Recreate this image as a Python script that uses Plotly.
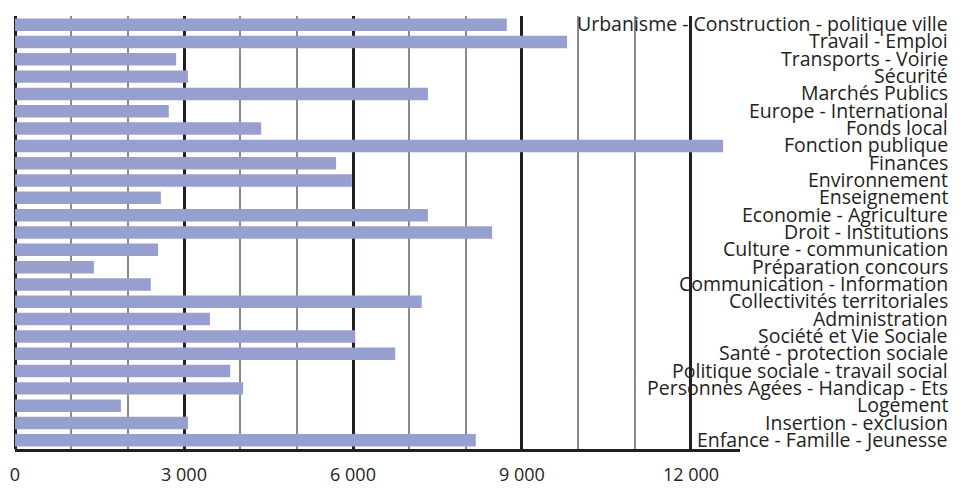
import plotly.graph_objects as go

categories = [
    "Urbanisme - Construction - politique ville",
    "Travail - Emploi",
    "Transports - Voirie",
    "Sécurité",
    "Marchés Publics",
    "Europe - International",
    "Fonds local",
    "Fonction publique",
    "Finances",
    "Environnement",
    "Enseignement",
    "Economie - Agriculture",
    "Droit - Institutions",
    "Culture - communication",
    "Préparation concours",
    "Communication - Information",
    "Collectivités territoriales",
    "Administration",
    "Société et Vie Sociale",
    "Santé - protection sociale",
    "Politique sociale - travail social",
    "Personnes Agées - Handicap - Ets",
    "Logement",
    "Insertion - exclusion",
    "Enfance - Famille - Jeunesse",
]
values = [8730, 9800, 2860, 3070, 7330, 2730, 4370, 12570, 5700, 5980, 2590,
          7330, 8470, 2540, 1400, 2410, 7220, 3460, 6040, 6750, 3820, 4050,
          1880, 3070, 8180]
tick_vals = [0, 3000, 6000, 9000, 12000]
tick_text = ["0", "3 000", "6 000", "9 000", "12 000"]

DARK = "#231f20"
fig = go.Figure(go.Bar(
    x=values, y=categories, orientation="h",
    marker=dict(color="#979fcf", line=dict(width=0)),
    hoverinfo="x+y",
))

annotations = []
for c in categories:
    annotations.append(dict(
        x=1.2897, xref="paper", y=c, yref="y", text=c, showarrow=False,
        xanchor="right", yanchor="middle", yshift=1,
        font=dict(family="Open Sans", size=19.5, color=DARK),
    ))

n = len(categories)
# the page body adds an 8px offset, so the figure is sized to fit the window
fig.update_layout(
    width=960, height=480,
    margin=dict(l=7, r=228, t=8, b=39, autoexpand=False),
    paper_bgcolor="white", plot_bgcolor="white",
    bargap=0.28,
    showlegend=False,
    annotations=annotations,
    xaxis=dict(
        range=[0, 12870], automargin=False,
        tickvals=tick_vals, ticktext=tick_text,
        showgrid=True, gridcolor=DARK, gridwidth=2.5,
        minor=dict(dtick=1000, tick0=0, showgrid=True, gridcolor="#8a8a8a", gridwidth=1.5),
        zeroline=True, zerolinecolor=DARK, zerolinewidth=3,
        showline=True, linecolor=DARK, linewidth=2.5,
        ticks="", ticklabelstandoff=8,
        tickfont=dict(family="Open Sans", size=18, color=DARK),
        fixedrange=True,
    ),
    yaxis=dict(
        range=[n - 0.5, -0.5], automargin=False,
        showticklabels=False, showgrid=False,
        showline=False, zeroline=False, ticks="", fixedrange=True,
    ),
)
fig.write_html("out.html")
